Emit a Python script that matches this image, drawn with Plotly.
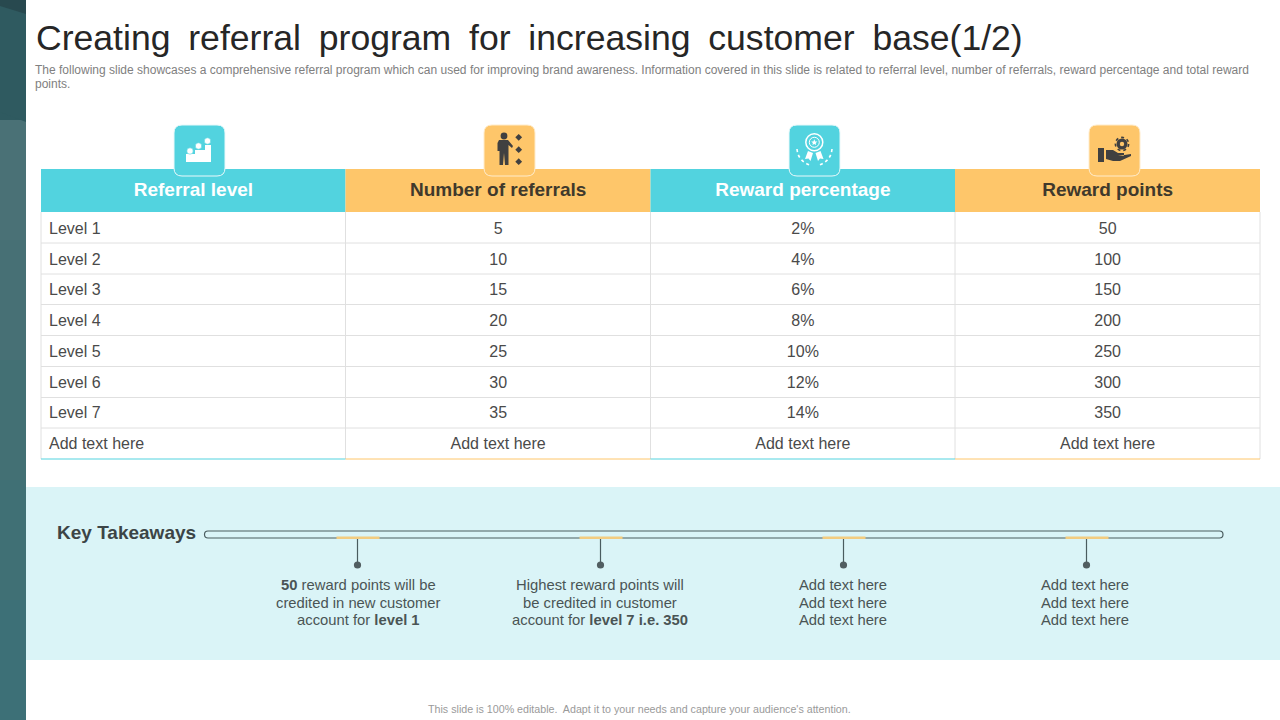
import plotly.graph_objects as go

# ---------------------------------------------------------------------------
# Slide content
# ---------------------------------------------------------------------------
TITLE = "Creating\u2002referral\u2002program\u2002for\u2002increasing\u2002customer\u2002base(1/2)"
SUBTITLE = [
    "The following slide showcases a comprehensive referral program which can used for improving brand awareness. "
    "Information covered in this slide is related to referral level, number of referrals, reward percentage and total reward",
    "points.",
]
FOOTER = "This slide is 100% editable.  Adapt it to your needs and capture your audience's attention."

headers = ["Referral level", "Number of referrals", "Reward percentage", "Reward points"]
levels = ["Level 1", "Level 2", "Level 3", "Level 4", "Level 5", "Level 6", "Level 7", "Add text here"]
referrals = ["5", "10", "15", "20", "25", "30", "35", "Add text here"]
percentages = ["2%", "4%", "6%", "8%", "10%", "12%", "14%", "Add text here"]
points = ["50", "100", "150", "200", "250", "300", "350", "Add text here"]

takeaways = [
    ["<b>50</b> reward points will be", "credited in new customer", "account for <b>level 1</b>"],
    ["Highest reward points will", "be credited in customer", "account for <b>level 7 i.e. 350</b>"],
    ["Add text here", "Add text here", "Add text here"],
    ["Add text here", "Add text here", "Add text here"],
]

# ---------------------------------------------------------------------------
# Colours
# ---------------------------------------------------------------------------
CYAN = "#52d3df"
AMBER = "#fec66a"
DARK = "#404040"
BROWN = "#40392c"
GRID = "#e0e0e0"
PANEL = "#daf4f7"
LINE = "#4a5c5f"
CLEAR = "rgba(0,0,0,0)"

W, H = 1280, 720
FONT = "Liberation Sans"

fig = go.Figure()

# ---------------------------------------------------------------------------
# Table: text only, offset 2px because plotly sits the text high in the row;
# fills and grid are drawn underneath as shapes
# ---------------------------------------------------------------------------
fig.add_trace(
    go.Table(
        domain=dict(x=[41 / W, 1260 / W], y=[1 - 464 / H, 1 - 171 / H]),
        columnwidth=[1, 1, 1, 1],
        header=dict(
            values=[f"<b>{h}</b>" for h in headers],
            height=43,
            align="center",
            fill_color=CLEAR,
            line=dict(color=CLEAR, width=0),
            font=dict(family=FONT, size=19, color=["white", BROWN, "white", BROWN]),
        ),
        cells=dict(
            values=[levels, referrals, percentages, points],
            height=30.7,
            align=["left", "center", "center", "center"],
            fill_color=CLEAR,
            line=dict(color=CLEAR, width=0),
            font=dict(family=FONT, size=16, color="#4a4a4a"),
        ),
    )
)

shapes = []


def rect(x0, y0, x1, y1, fill, line=None, width=0, layer="above"):
    shapes.append(dict(type="rect", x0=x0, y0=y0, x1=x1, y1=y1, fillcolor=fill,
                       line=dict(color=line or fill, width=width), layer=layer))


def seg(x0, y0, x1, y1, colour, width=1, layer="above"):
    shapes.append(dict(type="line", x0=x0, y0=y0, x1=x1, y1=y1, line=dict(color=colour, width=width), layer=layer))


def path(d, fill=CLEAR, line=None, width=0, dash=None):
    shapes.append(dict(type="path", path=d, fillcolor=fill,
                       line=dict(color=line or fill, width=width, dash=dash), layer="above"))


def circle(cx, cy, r, fill, line=None, width=0, dash=None):
    shapes.append(dict(type="circle", x0=cx - r, y0=cy - r, x1=cx + r, y1=cy + r, fillcolor=fill,
                       line=dict(color=line or fill, width=width, dash=dash), layer="above"))


def rounded(x0, y0, x1, y1, r, fill, line=None, width=0):
    path(f"M{x0 + r},{y0} L{x1 - r},{y0} Q{x1},{y0} {x1},{y0 + r} L{x1},{y1 - r} Q{x1},{y1} {x1 - r},{y1} "
         f"L{x0 + r},{y1} Q{x0},{y1} {x0},{y1 - r} L{x0},{y0 + r} Q{x0},{y0} {x0 + r},{y0} Z", fill, line, width)


# ---------------------------------------------------------------------------
# Left band, panel
# ---------------------------------------------------------------------------
band = [(0, "#2f5a60"), (120, "#4a7176"), (240, "#477075"), (360, "#437074"), (480, "#407075"), (600, "#3d7077")]
for i, (y, colour) in enumerate(band):
    y_end = band[i + 1][0] if i + 1 < len(band) else H
    rect(0, y, 26, y_end, colour)
path("M0,100 L26,100 L26,122 L0,112 Z", "#2f5a60")
path("M0,0 L26,0 L26,14 L0,6 Z", "#28494f")
rect(26, 487, W, 660, PANEL)

# ---------------------------------------------------------------------------
# Table fills and grid
# ---------------------------------------------------------------------------
column_edges = [41, 345.5, 650.5, 955, 1260]
row_edges = [212, 243, 274, 304.5, 335.5, 366.5, 397.5, 428, 459]
for i in range(4):
    rect(column_edges[i], 169, column_edges[i + 1], 212, [CYAN, AMBER][i % 2], layer="below")
for y in row_edges[1:-1]:
    seg(column_edges[0], y, column_edges[-1], y, GRID, layer="below")
for x in column_edges:
    seg(x, 212, x, 459, GRID, layer="below")
for i in range(4):
    seg(column_edges[i], 459, column_edges[i + 1], 459, [CYAN, AMBER][i % 2])

# ---------------------------------------------------------------------------
# Header icons
# ---------------------------------------------------------------------------
icon_boxes = [(174, CYAN), (484, AMBER), (789, CYAN), (1089, AMBER)]
for x, colour in icon_boxes:
    rounded(x, 125, x + 51, 176, 8, colour, "#e9f9fb" if colour == CYAN else "#ffeccb", 1)

# steps
path("M186,162 L186,154 L195,154 L195,150 L205,150 L205,145 L211,145 L211,162 Z", "white")
for cx, cy in [(190, 151), (198.5, 146), (207.5, 141)]:
    circle(cx, cy, 3.2, "white", CYAN, 0.6)

# person with three diamonds
circle(504, 136, 3.4, DARK)
path("M499,140 L508,140 L513,146 L512,148 L508.5,145 L508.5,165 L505,165 L504,153 L503,165 L499.5,165 "
     "L499.5,151 L497.5,151 L497.5,143 Z", DARK)
for cy in [137.3, 149.7, 161.7]:
    path(f"M518.7,{cy - 3.4} L522.1,{cy} L518.7,{cy + 3.4} L515.3,{cy} Z", DARK)

# award badge
circle(814.3, 142.3, 8.5, CLEAR, "white", 1.5)
circle(814.3, 142.3, 5, CLEAR, "white", 1)
path("M814.3,139.3 L815.2,141.4 L817.4,141.5 L815.7,142.9 L816.2,145 L814.3,143.9 L812.4,145 L812.9,142.9 "
     "L811.2,141.5 L813.4,141.4 Z", "white")
path("M808,151 L805,159 L808.5,158.5 L810.5,161 L813,153 Z", "white")
path("M820.5,151 L823.5,159 L820,158.5 L818,161 L815.5,153 Z", "white")
path("M797,149 Q798,161 810,165", line="white", width=1.6, dash="dot")
path("M832,149 Q831,161 819,165", line="white", width=1.6, dash="dot")

# hand with gear
rect(1098, 148, 1104, 162, DARK)
path("M1106,150 L1113,150 L1118,153 L1124,153 L1124,156 L1118,156 L1131,154 L1131,156 L1120,161 L1113,161 "
     "L1106,159 Z", DARK)
circle(1122, 144, 5.5, DARK)
circle(1122, 144, 6.6, CLEAR, DARK, 1.6, "dot")
circle(1122, 144, 2.2, AMBER)

# ---------------------------------------------------------------------------
# Key takeaways timeline
# ---------------------------------------------------------------------------
rounded(204.5, 531, 1223, 538, 3.5, PANEL, LINE, 1.2)
text_centres = [358.5, 600, 843, 1085]
annotations = []
for i, lines in enumerate(takeaways):
    cx = 357.5 + i * 243
    rect(cx - 21, 536.5, cx + 22, 539, "#f2cc80")
    seg(cx, 539, cx, 565, LINE, 1.2)
    circle(cx, 565, 3.6, "#515e61")
    for j, text in enumerate(lines):
        annotations.append(dict(x=text_centres[i], y=[585, 603, 620][j], text=text, showarrow=False,
                                xanchor="center", yanchor="middle",
                                font=dict(family=FONT, size=14.8, color="#4a5455")))

# ---------------------------------------------------------------------------
# Free text
# ---------------------------------------------------------------------------
annotations.append(dict(x=33.5, y=38, text=TITLE, showarrow=False, xanchor="left", yanchor="middle",
                        font=dict(family=FONT, size=35.6, color="#262626")))
for y, line in zip([70, 84], SUBTITLE):
    annotations.append(dict(x=33, y=y, text=line, showarrow=False, xanchor="left", yanchor="middle",
                            font=dict(family=FONT, size=12, color="#808080")))
annotations.append(dict(x=55, y=532, text="<b>Key Takeaways</b>", showarrow=False, xanchor="left", yanchor="middle",
                        font=dict(family=FONT, size=19, color="#3c4446")))
annotations.append(dict(x=639.5, y=709, text=FOOTER, showarrow=False, xanchor="center", yanchor="middle",
                        font=dict(family=FONT, size=10.7, color="#9a9a9a")))

# ---------------------------------------------------------------------------
# Layout
# ---------------------------------------------------------------------------
fig.add_trace(go.Scatter(x=[0, W], y=[0, H], mode="markers", marker=dict(opacity=0), hoverinfo="skip"))
fig.update_layout(
    width=W,
    height=H,
    margin=dict(l=0, r=0, t=0, b=0),
    paper_bgcolor="white",
    plot_bgcolor="rgba(0,0,0,0)",
    showlegend=False,
    shapes=shapes,
    annotations=annotations,
    xaxis=dict(range=[0, W], visible=False, fixedrange=True),
    yaxis=dict(range=[H, 0], visible=False, fixedrange=True),
)

fig.write_html("out.html", config=dict(displayModeBar=False), post_script="document.body.style.margin='0';")
